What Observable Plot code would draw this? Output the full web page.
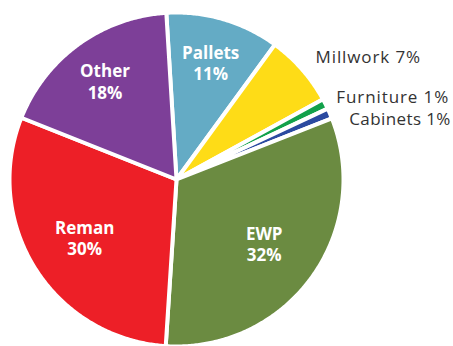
<!DOCTYPE html>
<html><head><meta charset="utf-8">
<script src="https://cdn.jsdelivr.net/npm/d3@7"></script>
<script src="https://cdn.jsdelivr.net/npm/@observablehq/plot@0.6"></script>
<style>body{margin:0;background:#fff;} #chart svg{display:block;}</style>
</head><body><div id="chart"></div>
<script>
// ---- data ----
const categories = ["Pallets", "Millwork", "Furniture", "Cabinets", "EWP", "Reman", "Other"];
const shares = [11, 7, 1, 1, 32, 30, 18];
const colors = ["#64abc5", "#fedc17", "#12a14b", "#2b4aa0", "#6b8b41", "#ed1f27", "#7d3f98"];
const insideLabel = [true, false, false, false, true, true, true];

// ---- layout ----
const startDeg = -3.5;
const cx = 176, cy = 179, R = 167;
const outR = 1.1;
const nudge = {Millwork: [1, -1], Furniture: [-4, 1], Cabinets: [4, 13]}; // px offsets of outside labels
const tracking = {Millwork: 0.9, Furniture: 0.9, Cabinets: 0.4};

const total = d3.sum(shares);
let acc = 0;
const slices = categories.map((c, i) => {
  const a0 = startDeg + acc / total * 360;
  acc += shares[i];
  const a1 = startDeg + acc / total * 360;
  return {category: c, share: shares[i], a0, a1, mid: (a0 + a1) / 2, inside: insideLabel[i]};
});
const rad = d => d * Math.PI / 180;
const outline = slices.flatMap(s => {
  const pts = [{category: s.category, x: 0, y: 0}];
  const n = Math.max(2, Math.ceil((s.a1 - s.a0) / 0.5));
  for (let k = 0; k <= n; k++) {
    const a = rad(s.a0 + (s.a1 - s.a0) * k / n);
    pts.push({category: s.category, x: Math.sin(a), y: Math.cos(a)});
  }
  return pts;
});
const lr = s => s.share > 25 ? 0.65 : 0.73;
const inside = slices.filter(s => s.inside);
const outside = slices.filter(s => !s.inside);

const chart = Plot.plot({
  width: 453, height: 346,
  margin: 0,
  x: {domain: [-1, 1], range: [cx - R, cx + R], axis: null},
  y: {domain: [-1, 1], range: [cy + R, cy - R], axis: null},
  color: {domain: categories, range: colors},
  style: {fontFamily: "'Open Sans', sans-serif", background: "white"},
  marks: [
    Plot.line(outline, {x: "x", y: "y", z: "category", fill: "category", stroke: "white",
      strokeWidth: 4, strokeLinejoin: "round", curve: "linear-closed"}),
    Plot.text(inside, {
      x: s => lr(s) * Math.sin(rad(s.mid)), y: s => lr(s) * Math.cos(rad(s.mid)),
      text: s => `${s.category}\n${s.share}%`, fill: "white", fontWeight: "bold",
      fontSize: 17, lineHeight: 1.28
    }),
    Plot.text(outside, {
      x: s => outR * Math.sin(rad(s.mid)) + nudge[s.category][0] / R,
      y: s => outR * Math.cos(rad(s.mid)) - nudge[s.category][1] / R,
      text: s => `${s.category} ${s.share}%`, fill: "#333", fontSize: 17,
      textAnchor: "start"
    })
  ]
});
d3.select(chart).selectAll("g[fill='#333'] text").each(function() {
  const name = this.textContent.split(" ")[0];
  this.setAttribute("letter-spacing", tracking[name] + "px");
});
document.getElementById("chart").append(chart);
</script>
</body></html>
